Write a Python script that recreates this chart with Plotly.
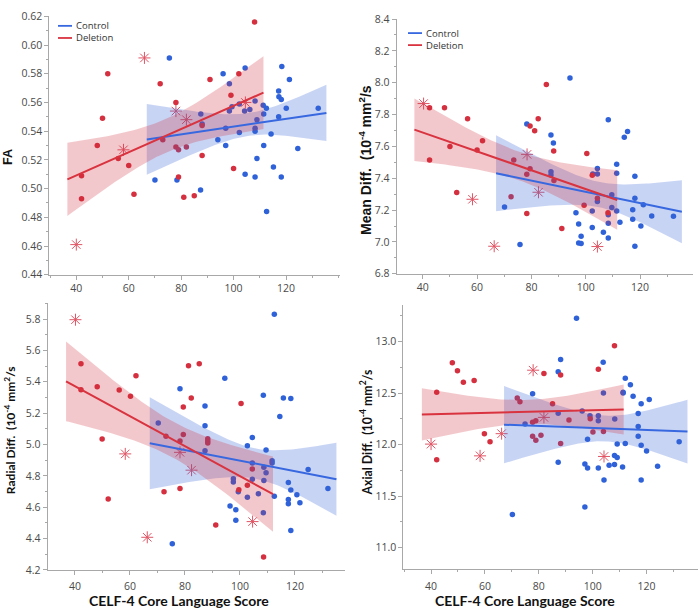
import numpy as np
import plotly.graph_objects as go

W, H = 699, 615

# ---------------- data ----------------
# FA
fa_ctrl_x = [70, 75.5, 78.4, 87.4, 87.5, 88, 94, 96, 97, 97, 98.4, 98.4, 99.4, 102.2, 102.2, 104.4, 104.2, 104.4,
             106.2, 108.2, 108.2, 108.2, 108.2, 108.9, 108.9, 111.3, 111.5, 111.5, 112.5, 112.6, 114.3, 115.2,
             117.2, 117.3, 117.2, 118.2, 118.4, 118.2, 120.1, 121.3, 124.5, 132.3]
fa_ctrl_y = [0.506, 0.591, 0.506, 0.499, 0.552, 0.545, 0.534, 0.580, 0.542, 0.530, 0.573, 0.554, 0.557, 0.559,
             0.539, 0.584, 0.554, 0.510, 0.555, 0.561, 0.542, 0.540, 0.508, 0.548, 0.521, 0.558, 0.552, 0.530,
             0.556, 0.484, 0.538, 0.515, 0.568, 0.564, 0.550, 0.562, 0.585, 0.508, 0.556, 0.576, 0.528, 0.556]
fa_del_x = [42, 42, 48, 50, 52, 56, 60, 62, 72, 73, 78, 78, 79, 79, 81, 82, 85, 88, 88, 91, 99, 100, 102, 108]
fa_del_y = [0.509, 0.493, 0.530, 0.549, 0.580, 0.521, 0.516, 0.496, 0.573, 0.534, 0.560, 0.529, 0.527, 0.508,
            0.494, 0.529, 0.495, 0.544, 0.523, 0.576, 0.565, 0.514, 0.580, 0.616]
fa_star_x = [40, 58, 66, 78, 82, 104.5]
fa_star_y = [0.461, 0.527, 0.591, 0.554, 0.548, 0.560]

# Mean diffusivity
md_ctrl_x = [70.1, 75.8, 78.3, 87.2, 87.2, 87.2, 88.1, 94.2, 96.4, 97.4, 97.4, 98.3, 98.3, 102.4, 102.4, 102.6,
             104.3, 104.3, 104.3, 106.5, 108.3, 108.3, 108.3, 108.3, 109.6, 109.6, 111.4, 111.4, 111.4, 112.6,
             114.2, 115.4, 117.3, 117.3, 118.1, 118.1, 118.1, 120.3, 121.2, 124.3, 132.3]
md_ctrl_y = [7.219, 6.984, 7.740, 7.672, 7.441, 7.421, 7.621, 8.030, 7.184, 7.112, 6.994, 7.035, 6.990, 7.194,
             7.090, 7.427, 7.462, 7.427, 7.254, 7.061, 7.768, 7.170, 7.117, 7.025, 7.297, 7.217, 7.488, 7.431,
             7.194, 7.123, 7.658, 7.693, 7.202, 7.143, 7.413, 7.274, 6.973, 7.100, 7.233, 7.163, 7.162]
md_del_x = [42.5, 42.5, 48, 50, 52.5, 56.5, 60, 62, 72.5, 73.5, 78.3, 78.3, 79.5, 79.5, 81.2, 82.5, 85.5,
            88.2, 88.3, 91.2, 99.4, 100.4, 102.4, 104.3, 108.2]
md_del_y = [7.842, 7.515, 7.842, 7.600, 7.311, 7.773, 7.577, 7.636, 7.284, 7.515, 7.178, 7.425, 7.728, 7.460,
            7.698, 7.774, 7.989, 7.571, 7.386, 7.085, 7.231, 7.556, 7.419, 7.275, 7.183]
md_star_x = [40.3, 58.3, 66.3, 78.4, 82.6, 104.3]
md_star_y = [7.869, 7.268, 6.973, 7.550, 7.312, 6.971]

# Radial diffusivity
rd_ctrl_x = [70.3, 75.4, 78.2, 87.3, 87.3, 87.3, 94.5, 96.4, 97.6, 97.6, 98.5, 98.5, 99.4, 102.7, 102.7, 104.5,
             104.5, 104.5, 106.7, 108.5, 108.7, 108.7, 108.5, 109.5, 109.5, 111.7, 111.7, 112.5, 112.5, 114.5,
             115.8, 117.6, 117.6, 117.6, 118.5, 118.5, 118.5, 120.7, 121.8, 124.8, 132.0]
rd_ctrl_y = [5.137, 4.366, 5.355, 5.245, 5.120, 4.960, 5.422, 4.607, 4.782, 4.761, 4.584, 4.516, 4.699, 4.992,
             4.663, 5.044, 4.882, 4.778, 4.686, 5.314, 4.855, 4.771, 4.564, 4.965, 4.819, 4.896, 4.882, 5.830,
             4.670, 5.179, 5.297, 4.757, 4.649, 4.622, 5.293, 4.709, 4.451, 4.680, 4.628, 4.840, 4.720]
rd_del_x = [42.2, 42.2, 48.1, 49.9, 52.1, 56.1, 60.2, 62.2, 72.4, 73.1, 78.2, 78.2, 79.4, 79.4, 81.3, 82.3,
            85.2, 88.3, 88.3, 88.3, 91.2, 99.6, 100.4, 102.7, 104.5, 108.6]
rd_del_y = [5.515, 5.349, 5.368, 5.035, 4.653, 5.347, 5.308, 5.438, 4.699, 5.052, 5.023, 4.719, 5.063, 5.239,
            5.503, 5.297, 5.515, 5.037, 5.023, 5.010, 4.487, 4.711, 5.262, 4.740, 4.844, 4.283]
rd_star_x = [40.2, 58.3, 66.3, 78.2, 82.4, 104.6]
rd_star_y = [5.796, 4.940, 4.408, 4.950, 4.836, 4.508]

# Axial diffusivity
ad_ctrl_x = [70.2, 74.9, 77.7, 87.2, 87.2, 87.2, 88.1, 94.0, 96.1, 97.1, 97.1, 98.1, 98.1, 99.0, 102.1, 102.1,
             102.1, 103.9, 104.0, 104.2, 106.1, 108.1, 108.1, 108.2, 109.1, 109.1, 111.1, 111.3, 111.3, 112.1,
             112.1, 114.0, 115.0, 116.9, 116.9, 116.9, 118.0, 118.0, 118.0, 120.0, 121.0, 124.1, 132.1]
ad_ctrl_y = [11.322, 12.200, 12.494, 12.706, 12.305, 11.828, 12.826, 13.227, 12.327, 11.812, 11.395, 12.052,
             11.774, 12.280, 12.280, 12.232, 11.774, 12.800, 12.501, 11.657, 11.799, 11.806, 11.894, 12.248,
             12.005, 11.875, 11.784, 12.507, 12.500, 12.643, 12.011, 12.580, 12.469, 12.302, 12.175, 12.081,
             12.397, 11.995, 11.657, 11.938, 12.438, 11.790, 12.027]
ad_del_x = [42.1, 42.1, 47.9, 49.8, 52.0, 56.0, 59.8, 61.9, 72.0, 73.0, 77.7, 77.7, 78.9, 78.9, 80.8, 81.9,
            85.1, 88.1, 88.1, 91.2, 99.1, 100.1, 102.1, 104.0, 108.1]
ad_del_y = [12.507, 11.853, 12.795, 12.716, 12.605, 12.621, 12.106, 12.027, 12.453, 12.416, 12.216, 12.081,
            12.232, 12.043, 12.090, 12.690, 12.397, 12.675, 12.011, 12.239, 12.251, 12.122, 12.731, 12.128, 12.959]
ad_star_x = [40.0, 58.2, 66.2, 77.9, 81.9, 104.2]
ad_star_y = [12.005, 11.891, 12.106, 12.722, 12.264, 11.885]

x_ticks = [40, 60, 80, 100, 120]
x_title = "CELF-4 Core Language Score"
y_titles = ["FA", "Mean Diff.  (10<sup>-4</sup> mm<sup>2</sup>/s",
            "Radial Diff.  (10<sup>-4</sup> mm<sup>2</sup>/s", "Axial Diff.  (10<sup>-4</sup> mm<sup>2</sup>/s"]
group_names = ["Control", "Deletion"]

# ---------------- styles ----------------
BLUE_DOT = "#2f62d9"
RED_DOT = "#d5303f"
BLUE_LINE = "#3868e0"
RED_LINE = "#d8333f"
STAR = "#e05565"
BLUE_BAND = "rgba(59,101,216,0.28)"
RED_BAND = "rgba(209,44,58,0.26)"
AXIS = "#a8a8a8"
TICKFONT = dict(family="Open Sans", size=10.5, color="#4a4a4a")


def tcrit(df):
    z = 1.959964
    return z + (z**3 + z) / (4 * df) + (5 * z**5 + 16 * z**3 + 3 * z) / (96 * df**2)


def fit_band(x, y):
    x = np.asarray(x, float)
    y = np.asarray(y, float)
    n = len(x)
    b1, b0 = np.polyfit(x, y, 1)
    res = y - (b0 + b1 * x)
    s = np.sqrt((res**2).sum() / (n - 2))
    xbar = x.mean()
    sxx = ((x - xbar) ** 2).sum()
    ext = 0.05 * (x.max() - x.min())
    xs = np.linspace(x.min() - ext, x.max() + ext, 80)
    yh = b0 + b1 * xs
    half = tcrit(n - 2) * s * np.sqrt(1 / n + (xs - xbar) ** 2 / sxx)
    return xs, yh, yh - half, yh + half


panels = [
    dict(cx=fa_ctrl_x, cy=fa_ctrl_y, dx=fa_del_x, dy=fa_del_y, sx=fa_star_x, sy=fa_star_y),
    dict(cx=md_ctrl_x, cy=md_ctrl_y, dx=md_del_x, dy=md_del_y, sx=md_star_x, sy=md_star_y),
    dict(cx=rd_ctrl_x, cy=rd_ctrl_y, dx=rd_del_x, dy=rd_del_y, sx=rd_star_x, sy=rd_star_y),
    dict(cx=ad_ctrl_x, cy=ad_ctrl_y, dx=ad_del_x, dy=ad_del_y, sx=ad_star_x, sy=ad_star_y),
]

# pixel layout of each plot area: (left, right, top, bottom), x range, y range, dtick, minor dtick, label standoff
areas = [
    (49.3, 340, 9.5, 274, [29.7, 140.6], [0.44, 0.62], 0.02, 0.01, 0),
    (396.7, 693, 12.3, 273, [30.4, 139.5], [6.8, 8.4], 0.2, 0.1, 0),
    (47.7, 345, 303.3, 576, [30.1, 138.2], [4.2, 5.9], 0.2, 0.1, 3),
    (403.3, 698, 305, 575, [29.7, 139.1], [10.794, 13.354], 0.5, 0.25, 3),
]

fig = go.Figure()

for i, p in enumerate(panels):
    xa = "x" if i == 0 else f"x{i+1}"
    ya = "y" if i == 0 else f"y{i+1}"
    # points
    fig.add_trace(go.Scatter(x=p["cx"], y=p["cy"], mode="markers", xaxis=xa, yaxis=ya, showlegend=False,
                             marker=dict(size=5.5, color=BLUE_DOT)))
    fig.add_trace(go.Scatter(x=p["dx"], y=p["dy"], mode="markers", xaxis=xa, yaxis=ya, showlegend=False,
                             marker=dict(size=5.5, color=RED_DOT)))
    fig.add_trace(go.Scatter(x=p["sx"], y=p["sy"], mode="markers", xaxis=xa, yaxis=ya, showlegend=False,
                             marker=dict(size=10, symbol="asterisk-open", color=STAR,
                                         line=dict(color=STAR, width=1))))
    # fits with 95% confidence bands (control: blue points; deletion: dots + asterisks)
    groups = [
        (p["cx"], p["cy"], BLUE_BAND, BLUE_LINE),
        (list(p["dx"]) + list(p["sx"]), list(p["dy"]) + list(p["sy"]), RED_BAND, RED_LINE),
    ]
    fits = []
    for gx, gy, band, line in groups:
        xs, yh, lo, hi = fit_band(gx, gy)
        fits.append((xs, yh, line))
        fig.add_trace(go.Scatter(x=np.concatenate([xs, xs[::-1]]), y=np.concatenate([hi, lo[::-1]]),
                                 fill="toself", fillcolor=band, line=dict(width=0), mode="lines",
                                 xaxis=xa, yaxis=ya, showlegend=False, hoverinfo="skip"))
    for xs, yh, line in fits:
        fig.add_trace(go.Scatter(x=xs, y=yh, mode="lines", line=dict(color=line, width=2),
                                 xaxis=xa, yaxis=ya, showlegend=False))

layout = dict(width=W, height=H, margin=dict(l=0, r=0, t=0, b=0), paper_bgcolor="white",
              plot_bgcolor="white", showlegend=False)

for i, (l, r, t, b, xr, yr, dy, mdy, stand) in enumerate(areas):
    xk = "xaxis" if i == 0 else f"xaxis{i+1}"
    yk = "yaxis" if i == 0 else f"yaxis{i+1}"
    ya = "y" if i == 0 else f"y{i+1}"
    xa = "x" if i == 0 else f"x{i+1}"
    layout[xk] = dict(domain=[l / W, r / W], range=xr, anchor=ya, showgrid=False, zeroline=False,
                      showline=True, linecolor=AXIS, linewidth=1, ticks="outside", ticklen=4, tickcolor=AXIS,
                      tickmode="array", tickvals=x_ticks, tickfont=TICKFONT, ticklabelstandoff=stand,
                      minor=dict(ticks="outside", ticklen=2, tickcolor=AXIS, dtick=10, tick0=40))
    layout[yk] = dict(domain=[1 - b / H, 1 - t / H], range=yr, anchor=xa, showgrid=False, zeroline=False,
                      showline=True, linecolor=AXIS, linewidth=1, ticks="outside", ticklen=4, tickcolor=AXIS,
                      dtick=dy, tickfont=TICKFONT, tickformat=".2f" if i == 0 else ".1f",
                      minor=dict(ticks="outside", ticklen=2, tickcolor=AXIS, dtick=mdy))

ann = []
# y titles
ytitle_pos = [(8.5, 154, "Liberation Sans", 12.5), (365.5, 157, "Liberation Sans", 14),
              (10, 433, "Lato", 12), (366.5, 436, "Lato", 12.3)]
for (cx, cy, fam, fs), txt in zip(ytitle_pos, y_titles):
    ann.append(dict(x=cx / W, y=1 - cy / H, xref="paper", yref="paper", text=f"<b>{txt}</b>",
                    textangle=-90, showarrow=False, xanchor="center", yanchor="middle",
                    font=dict(family=fam, size=fs, color="#111111")))
# x titles
for cx in (179, 524.5):
    ann.append(dict(x=cx / W, y=1 - 607 / H, xref="paper", yref="paper", text=f"<b>{x_title}</b>",
                    showarrow=False, xanchor="center", yanchor="middle",
                    font=dict(family="Lato", size=14, color="#111111")))

# in-panel legends (FA and MD panels)
shapes = []
for lx0, lx1, ty, dy_ in ((58, 72, 19.3, 12.4), (408, 422, 26.7, 12.3)):
    for k, (nm, col) in enumerate(zip(group_names, (BLUE_LINE, RED_LINE))):
        yy = 1 - (ty + k * dy_) / H
        shapes.append(dict(type="line", xref="paper", yref="paper", x0=lx0 / W, x1=lx1 / W, y0=yy, y1=yy,
                           line=dict(color=col, width=1.8)))
        ann.append(dict(x=(lx1 + 2) / W, y=yy, xref="paper", yref="paper", text=nm, showarrow=False,
                        xanchor="left", yanchor="middle",
                        font=dict(family="Open Sans", size=9.5, color="#333333")))

layout["annotations"] = ann
layout["shapes"] = shapes
fig.update_layout(**layout)
fig.write_html("out.html", config={"displayModeBar": False},
               post_script="document.body.style.margin='0px';document.body.style.padding='0px';")
